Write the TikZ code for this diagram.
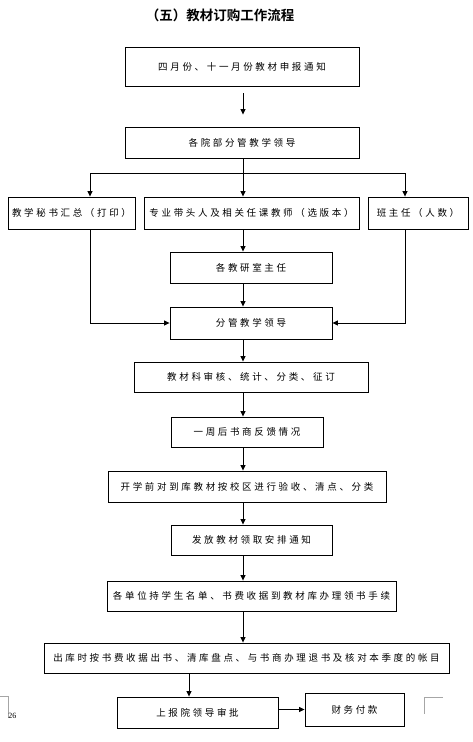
\documentclass[tikz,border=0pt]{standalone}
\usepackage{fontspec}
\usepackage{tikz}
\usetikzlibrary{arrows.meta}
\setmainfont{Liberation Serif}
\newfontfamily\cjk[LetterSpace=28]{Noto Sans CJK SC}
\newfontfamily\cjktitle{Noto Sans CJK SC Bold}

\begin{document}
\begin{tikzpicture}[x=1pt, y=-1pt, line width=0.8pt,
  >={Triangle[length=5.5pt, width=5pt]},
  box/.style={draw, line width=0.9pt, inner sep=0pt,
    font=\cjk\fontsize{9.5}{9.5}\selectfont},
  cropmark/.style={gray!70, line width=0.6pt}]
  \useasboundingbox (0,0) rectangle (473,742);
  \node[font=\cjktitle\fontsize{13.5}{13.5}\selectfont] (title) at (220,15)
    {（五）教材订购工作流程};
  % boxes, top to bottom
  \node[box, minimum width=234, minimum height=39] (b1) at (242,66.5) {四月份、十一月份教材申报通知};
  \node[box, minimum width=234, minimum height=31] (b2) at (242,142.5) {各院部分管教学领导};
  \node[box, minimum width=127, minimum height=32] (b3) at (71.5,213) {教学秘书汇总（打印）};
  \node[box, minimum width=215, minimum height=32] (b4) at (251.5,213) {专业带头人及相关任课教师（选版本）};
  \node[box, minimum width=100, minimum height=32] (b5) at (418,213) {班主任（人数）};
  \node[box, minimum width=162, minimum height=31] (b6) at (251,267.5) {各教研室主任};
  \node[box, minimum width=162, minimum height=32] (b7) at (251,323) {分管教学领导};
  \node[box, minimum width=234, minimum height=30] (b8) at (251,377) {教材科审核、统计、分类、征订};
  \node[box, minimum width=152, minimum height=30] (b9) at (247,432) {一周后书商反馈情况};
  \node[box, minimum width=278, minimum height=31] (b10) at (247,486.5) {开学前对到库教材按校区进行验收、清点、分类};
  \node[box, minimum width=161, minimum height=30] (b11) at (251.5,540) {发放教材领取安排通知};
  \node[box, minimum width=289, minimum height=30] (b12) at (251.5,596) {各单位持学生名单、书费收据到教材库办理领书手续};
  \node[box, minimum width=405, minimum height=30] (b13) at (246.5,658) {出库时按书费收据出书、清库盘点、与书商办理退书及核对本季度的帐目};
  \node[box, minimum width=161, minimum height=31] (b14) at (197.5,712.5) {上报院领导审批};
  \node[box, minimum width=99, minimum height=33] (b15) at (354.5,709.5) {财务付款};
  % line positions
  \coordinate (spine) at (243,0);
  \coordinate (lft) at (90,173);
  \coordinate (rgt) at (405,173);
  \coordinate (low) at (189,0);
  % connectors
  \draw[->, shorten <=7pt, shorten >=12pt] (b1.south -| spine) -- (b2.north -| spine);
  \draw[->] (b2.south -| spine) -- (b4.north -| spine);
  \draw (lft) -- (rgt);
  \draw[->] (lft) -- (b3.north -| lft);
  \draw[->] (rgt) -- (b5.north -| rgt);
  \draw[->] (b4.south -| spine) -- (b6.north -| spine);
  \draw[->] (b6.south -| spine) -- (b7.north -| spine);
  \draw[->] (b3.south -| lft) |- (b7.west);
  \draw[->] (b5.south -| rgt) |- (b7.east);
  \foreach \a/\b in {b7/b8, b8/b9, b9/b10, b10/b11, b11/b12, b12/b13}
    \draw[->] (\a.south -| spine) -- (\b.north -| spine);
  \draw[->] (b13.south -| low) -- (b14.north -| low);
  \draw[->] (b14.east |- b15) -- (b15.west);
  % page marks
  \draw[cropmark] (0,696) -- (8,696) -- (8,718);
  \draw[cropmark] (443,697) -- (424,697) -- (424,714);
  \node[font=\fontsize{8}{8}\selectfont, inner sep=0pt, anchor=west] (page) at (8,716) {26};
\end{tikzpicture}
\end{document}
